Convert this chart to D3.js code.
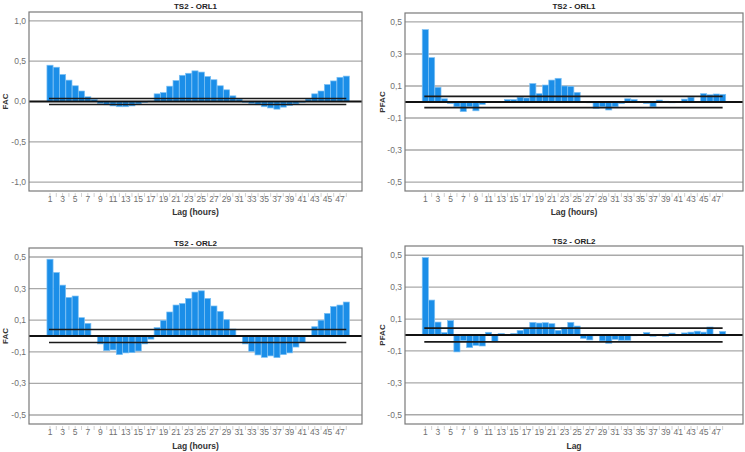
<!DOCTYPE html>
<html>
<head>
<meta charset="utf-8">
<script src="https://cdn.jsdelivr.net/npm/d3@7/dist/d3.min.js"></script>
<style>
  html, body { margin: 0; padding: 0; background: #fff; }
  svg { display: block; font-family: "Liberation Sans", Arial, sans-serif; }
</style>
</head>
<body>
<svg id="chart" width="745" height="452"></svg>
<script>
const lags = d3.range(1, 49);

const acfOrl1 = [0.45,0.425,0.335,0.265,0.195,0.13,0.058,0.025,-0.025,-0.04,-0.055,-0.065,-0.065,-0.055,-0.03,-0.01,0.005,
  0.095,0.11,0.19,0.26,0.325,0.35,0.38,0.365,0.31,0.27,0.195,0.145,0.07,0.03,-0.01,-0.025,-0.04,-0.065,-0.08,-0.095,-0.07,
  -0.05,-0.03,-0.01,0.03,0.095,0.13,0.21,0.255,0.3,0.315];

const pacfOrl1 = [0.452,0.277,0.092,0.02,-0.01,-0.03,-0.06,-0.03,-0.055,-0.015,0.0,0.0,-0.002,0.015,0.015,0.03,0.025,
  0.115,0.052,0.106,0.137,0.148,0.1,0.098,0.06,-0.002,-0.005,-0.04,-0.03,-0.05,-0.03,-0.01,0.02,0.015,0.0,-0.01,-0.03,
  0.012,0.005,-0.005,0.0,0.018,0.03,-0.003,0.052,0.045,0.05,0.048];

const acfOrl2 = [0.486,0.402,0.322,0.244,0.253,0.116,0.08,0.003,-0.05,-0.093,-0.088,-0.118,-0.107,-0.105,-0.095,-0.05,-0.02,
  0.053,0.099,0.152,0.196,0.206,0.238,0.278,0.286,0.238,0.19,0.156,0.103,0.044,0.003,-0.05,-0.097,-0.12,-0.135,-0.126,
  -0.137,-0.118,-0.107,-0.07,-0.04,0.003,0.059,0.1,0.143,0.187,0.196,0.215];

const pacfOrl2 = [0.485,0.219,0.081,0.015,0.09,-0.106,-0.035,-0.079,-0.065,-0.069,0.017,-0.042,0.01,0.0,0.01,0.029,0.04,
  0.079,0.075,0.077,0.071,0.029,0.046,0.079,0.056,-0.021,-0.031,-0.005,-0.037,-0.052,-0.027,-0.033,-0.033,-0.005,0.0,
  0.015,-0.008,0.003,-0.008,0.012,0.002,0.013,0.018,0.024,0.018,0.05,0.005,0.022];

const confLimits = [0.037, 0.035, 0.041, 0.043];
const ticksWide = [1.0, 0.5, 0.0, -0.5, -1.0];
const ticksNarrow = [0.5, 0.3, 0.1, -0.1, -0.3, -0.5];
const titles = ["TS2 - ORL1", "TS2 - ORL1", "TS2 - ORL2", "TS2 - ORL2"];
const yTitles = ["FAC", "PFAC", "FAC", "PFAC"];
const xTitles = ["Lag (hours)", "Lag (hours)", "Lag (hours)", "Lag"];
const xTickLabels = d3.range(1, 49, 2);

const panels = [
  { data: acfOrl1, conf: confLimits[0], ticks: ticksWide, dom: 1.11,
    fx0: 29, fx1: 362, fy0: 12, fy1: 191, lag1: 50, lag47: 340, titleY: 6, yTitleX: 5, tickY: 202, xTitleY: 215 },
  { data: pacfOrl1, conf: confLimits[1], ticks: ticksNarrow, dom: 0.556,
    fx0: 405, fx1: 743, fy0: 13, fy1: 191, lag1: 425.3, lag47: 716.3, titleY: 6, yTitleX: 382, tickY: 202, xTitleY: 215 },
  { data: acfOrl2, conf: confLimits[2], ticks: ticksNarrow, dom: 0.557,
    fx0: 29, fx1: 362, fy0: 248, fy1: 424, lag1: 50, lag47: 340, titleY: 243, yTitleX: 5, tickY: 435, xTitleY: 448.5 },
  { data: pacfOrl2, conf: confLimits[3], ticks: ticksNarrow, dom: 0.558,
    fx0: 405, fx1: 743, fy0: 246, fy1: 424, lag1: 425.3, lag47: 716.3, titleY: 241.5, yTitleX: 382, tickY: 435, xTitleY: 448.5 }
];

const svg = d3.select("#chart");
const fmt = v => d3.format(".1f")(v).replace(".", ",").replace("−", "-");

panels.forEach((p, i) => {
  const g = svg.append("g");
  const x = d3.scaleLinear().domain([1, 47]).range([p.lag1, p.lag47]);
  const y = d3.scaleLinear().domain([-p.dom, p.dom]).range([p.fy1, p.fy0]);
  const step = x(2) - x(1);
  const bw = step * 0.97;

  g.selectAll("line.grid").data(p.ticks.filter(t => t !== 0)).join("line")
    .attr("x1", p.fx0).attr("x2", p.fx1)
    .attr("y1", d => y(d)).attr("y2", d => y(d))
    .attr("stroke", "#a9a9a9").attr("stroke-width", 1.3);

  g.selectAll("text.yt").data(p.ticks).join("text")
    .attr("x", p.fx0 - 3).attr("y", d => y(d)).attr("dy", "0.35em")
    .attr("text-anchor", "end").attr("font-size", 8.5).attr("fill", "#707070")
    .text(d => fmt(d));

  g.selectAll("rect.bar").data(lags.map((l, k) => ({ lag: l, v: p.data[k] }))).join("rect")
    .attr("x", d => x(d.lag) - bw / 2)
    .attr("width", bw)
    .attr("y", d => Math.min(y(d.v), y(0)))
    .attr("height", d => Math.abs(y(d.v) - y(0)))
    .attr("fill", "#1b8ee8")
    .attr("stroke", "#7cc0f4").attr("stroke-width", 0.7);

  [p.conf, -p.conf].forEach(c => {
    g.append("line")
      .attr("x1", x(1) - 1).attr("x2", x(48))
      .attr("y1", y(c)).attr("y2", y(c))
      .attr("stroke", "#1a1a1a").attr("stroke-width", 1.6);
  });

  g.append("line")
    .attr("x1", p.fx0).attr("x2", p.fx1)
    .attr("y1", y(0)).attr("y2", y(0))
    .attr("stroke", "#111").attr("stroke-width", 2);

  g.append("rect")
    .attr("x", p.fx0).attr("y", p.fy0)
    .attr("width", p.fx1 - p.fx0).attr("height", p.fy1 - p.fy0)
    .attr("fill", "none").attr("stroke", "#7a7a7a").attr("stroke-width", 1.2);

  g.selectAll("line.xt").data(lags).join("line")
    .attr("x1", d => x(d)).attr("x2", d => x(d))
    .attr("y1", p.fy1 + 2).attr("y2", p.fy1 + 6)
    .attr("stroke", "#c4c4c4").attr("stroke-width", 0.8);

  g.selectAll("text.xl").data(xTickLabels).join("text")
    .attr("x", d => x(d)).attr("y", p.tickY)
    .attr("text-anchor", "middle").attr("font-size", 8.5).attr("fill", "#707070")
    .text(d => d);

  g.append("text")
    .attr("x", (p.fx0 + p.fx1) / 2).attr("y", p.titleY).attr("dy", "0.35em")
    .attr("text-anchor", "middle").attr("font-size", 8).attr("font-weight", "bold").attr("fill", "#222")
    .text(titles[i]);

  g.append("text")
    .attr("x", (p.fx0 + p.fx1) / 2).attr("y", p.xTitleY)
    .attr("text-anchor", "middle").attr("font-size", 8.5).attr("font-weight", "bold").attr("fill", "#333")
    .text(xTitles[i]);

  g.append("text")
    .attr("transform", `translate(${p.yTitleX},${y(0)}) rotate(-90)`)
    .attr("dy", "0.35em")
    .attr("text-anchor", "middle").attr("font-size", 8).attr("font-weight", "bold").attr("fill", "#333")
    .text(yTitles[i]);
});
</script>
</body>
</html>
